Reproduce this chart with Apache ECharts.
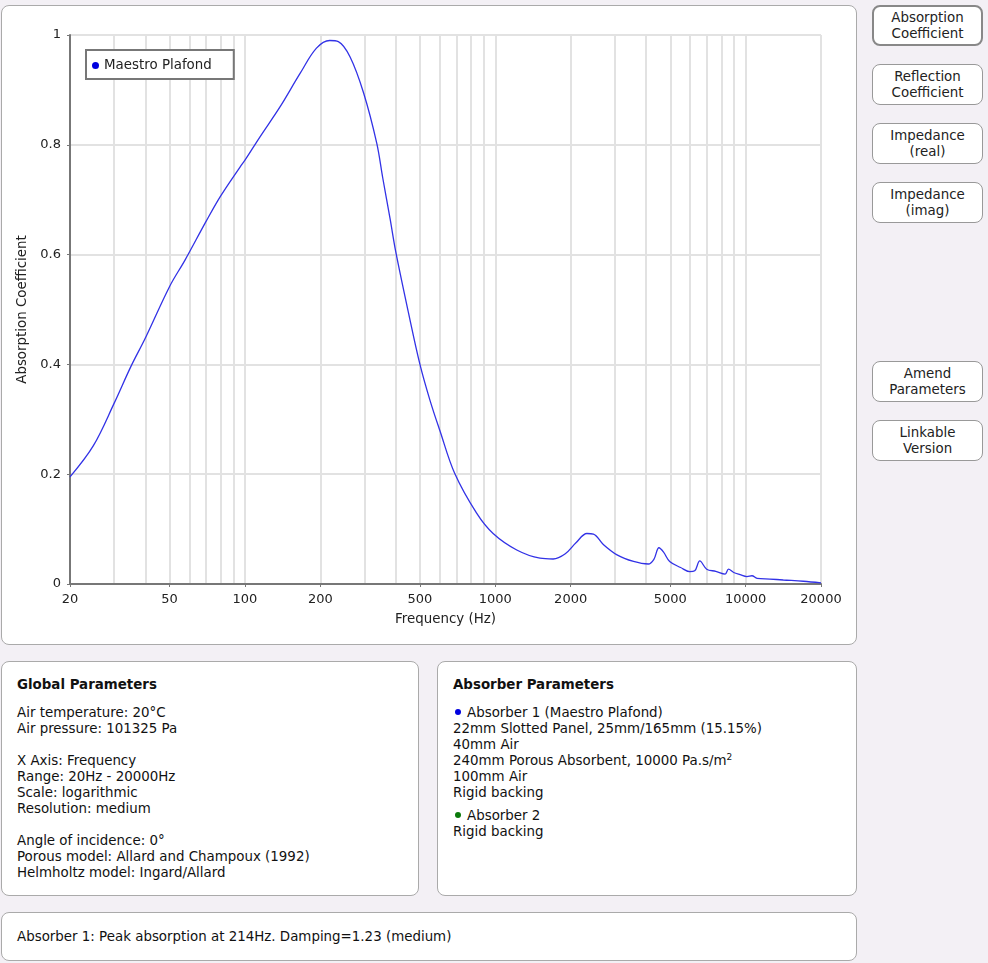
<!DOCTYPE html>
<html>
<head>
<meta charset="utf-8">
<script src="https://cdn.jsdelivr.net/npm/echarts@6/dist/echarts.min.js"></script>
<style>
  body { margin: 0; background: #f3f0f5; font-family: "DejaVu Sans", Verdana, sans-serif; font-size: 13.4px; color: #111; }
  .panel { position: absolute; background: #fff; border: 1px solid #aaa; border-radius: 8px; box-sizing: border-box; }
  .txt { padding: 15px 0 0 15px; line-height: 16px; }
  .txt h4 { margin: 0 0 12px 0; font-size: 13.4px; }
  .btn { position: absolute; left: 872px; width: 111px; height: 41px; box-sizing: border-box; background: #fff;
         border: 1px solid #999; border-radius: 8px; text-align: center; line-height: 16px; padding-top: 4px; color: #222; }
  .btn.sel { border: 2px solid #888; padding-top: 3px; }
  .dot { display: inline-block; width: 6px; height: 6px; border-radius: 50%; margin: 0 6px 2px 2px; }
  sup { font-size: 9px; line-height: 0; }
</style>
</head>
<body>
<div class="panel" style="left:1px;top:5px;width:856px;height:640px;">
  <div id="chart" style="width:854px;height:638px;"></div>
</div>

<div class="btn sel" style="top:5px;">Absorption<br>Coefficient</div>
<div class="btn" style="top:64px;">Reflection<br>Coefficient</div>
<div class="btn" style="top:123px;">Impedance<br>(real)</div>
<div class="btn" style="top:182px;">Impedance<br>(imag)</div>
<div class="btn" style="top:361px;">Amend<br>Parameters</div>
<div class="btn" style="top:420px;">Linkable<br>Version</div>

<div class="panel" style="left:1px;top:661px;width:418px;height:235px;">
  <div class="txt">
    <h4>Global Parameters</h4>
    Air temperature: 20°C<br>
    Air pressure: 101325 Pa<br><br>
    X Axis: Frequency<br>
    Range: 20Hz - 20000Hz<br>
    Scale: logarithmic<br>
    Resolution: medium<br><br>
    Angle of incidence: 0°<br>
    Porous model: Allard and Champoux (1992)<br>
    Helmholtz model: Ingard/Allard
  </div>
</div>

<div class="panel" style="left:437px;top:661px;width:420px;height:235px;">
  <div class="txt">
    <h4>Absorber Parameters</h4>
    <div><span class="dot" style="background:#0000e0"></span>Absorber 1 (Maestro Plafond)<br>
    22mm Slotted Panel, 25mm/165mm (15.15%)<br>
    40mm Air<br>
    240mm Porous Absorbent, 10000 Pa.s/m<sup>2</sup><br>
    100mm Air<br>
    Rigid backing</div>
    <div style="margin-top:7px;"><span class="dot" style="background:#0a7a0a"></span>Absorber 2<br>
    Rigid backing</div>
  </div>
</div>

<div class="panel" style="left:1px;top:912px;width:856px;height:49px;">
  <div style="padding:16px 0 0 15px;">Absorber 1: Peak absorption at 214Hz. Damping=1.23 (medium)</div>
</div>

<script>
// 频率 (Hz) 与吸声系数
const freqHz = [20, 24.8, 30, 35, 40, 50, 57.6, 70, 80, 95.7, 100, 115, 138, 166, 193, 218, 236, 263, 298, 336,
  355, 380, 400, 450, 500, 548, 600, 688, 842, 980, 1218, 1508, 1702, 1904, 2100, 2322, 2466, 2700, 3064,
  3566, 4085, 4300, 4505, 4700, 4972, 5500, 5981, 6260, 6560, 6990, 7600, 8280, 8540, 8960, 9500, 10120, 10600,
  11110, 12500, 14140, 17000, 20000];
const absorption = [0.195, 0.252, 0.329, 0.396, 0.448, 0.542, 0.59, 0.661, 0.707, 0.76, 0.772, 0.815, 0.869, 0.93,
  0.976, 0.99, 0.988, 0.96, 0.894, 0.803, 0.74, 0.665, 0.606, 0.494, 0.4, 0.335, 0.28, 0.2016, 0.129,
  0.092, 0.062, 0.047, 0.0455, 0.055, 0.075, 0.092, 0.091, 0.072, 0.053, 0.041, 0.0364, 0.045, 0.066, 0.058,
  0.041, 0.03, 0.0224, 0.024, 0.042, 0.027, 0.023, 0.018, 0.027, 0.021, 0.017, 0.0134, 0.015, 0.0103, 0.009,
  0.0073, 0.005, 0.002];

// 刻度标签和网格线位置
const labelFreqs = [20, 50, 100, 200, 500, 1000, 2000, 5000, 10000, 20000];
const gridFreqs = [20, 30, 40, 50, 60, 70, 80, 90, 100, 200, 300, 400, 500, 600, 700, 800, 900,
  1000, 2000, 3000, 4000, 5000, 6000, 7000, 8000, 9000, 10000, 20000];

const lg = Math.log10;
const font = 'DejaVu Sans';
const chart = echarts.init(document.getElementById('chart'));

const option = {
  animation: false,
  grid: { left: 68, top: 29, right: 35, bottom: 60 },
  legend: {
    left: 84, top: 44,
    orient: 'vertical',
    padding: [9, 22, 7, 6],
    borderColor: '#777', borderWidth: 2, backgroundColor: '#fff',
    icon: 'circle', itemWidth: 7, itemHeight: 7,
    textStyle: { fontFamily: font, fontSize: 13.4, color: '#222' },
    data: [{ name: 'Maestro Plafond', itemStyle: { color: '#0000e0' } }]
  },
  xAxis: [{
    type: 'value', min: lg(20), max: lg(20000),
    name: 'Frequency (Hz)', nameLocation: 'middle', nameGap: 29,
    nameTextStyle: { fontFamily: font, fontSize: 13.4, color: '#222' },
    axisLine: { lineStyle: { color: '#777', width: 2 } },
    axisTick: { show: true, length: 3, lineStyle: { color: '#777' }, customValues: labelFreqs.map(lg) },
    axisLabel: {
      customValues: labelFreqs.map(lg), margin: 9,
      fontFamily: font, fontSize: 13, color: '#222',
      formatter: v => String(Math.round(Math.pow(10, v)))
    },
    splitLine: { show: false }
  }, {
    // 只用来画对数网格线
    type: 'value', min: lg(20), max: lg(20000), position: 'bottom',
    axisLine: { show: false }, axisLabel: { show: false },
    axisTick: { show: false, customValues: gridFreqs.map(lg) },
    splitLine: { show: true, lineStyle: { color: '#e2e2e2', width: 2 } }
  }],
  yAxis: {
    type: 'value', min: 0, max: 1, interval: 0.2,
    name: 'Absorption Coefficient', nameLocation: 'middle', nameGap: 37,
    nameTextStyle: { fontFamily: font, fontSize: 13.4, color: '#222' },
    axisLine: { show: true, lineStyle: { color: '#777', width: 2 } },
    axisTick: { show: true, length: 3, lineStyle: { color: '#777' } },
    axisLabel: { margin: 9, fontFamily: font, fontSize: 13, color: '#222',
      formatter: v => String(+v.toFixed(1)) },
    splitLine: { show: true, lineStyle: { color: '#e2e2e2', width: 2 } }
  },
  series: [{
    name: 'Maestro Plafond',
    type: 'line',
    xAxisIndex: 0,
    showSymbol: false,
    smooth: 0.35,
    lineStyle: { color: '#3232e6', width: 1.3 },
    itemStyle: { color: '#0000e0' },
    data: freqHz.map((f, i) => [lg(f), absorption[i]])
  }]
};

chart.setOption(option);
</script>
</body>
</html>
